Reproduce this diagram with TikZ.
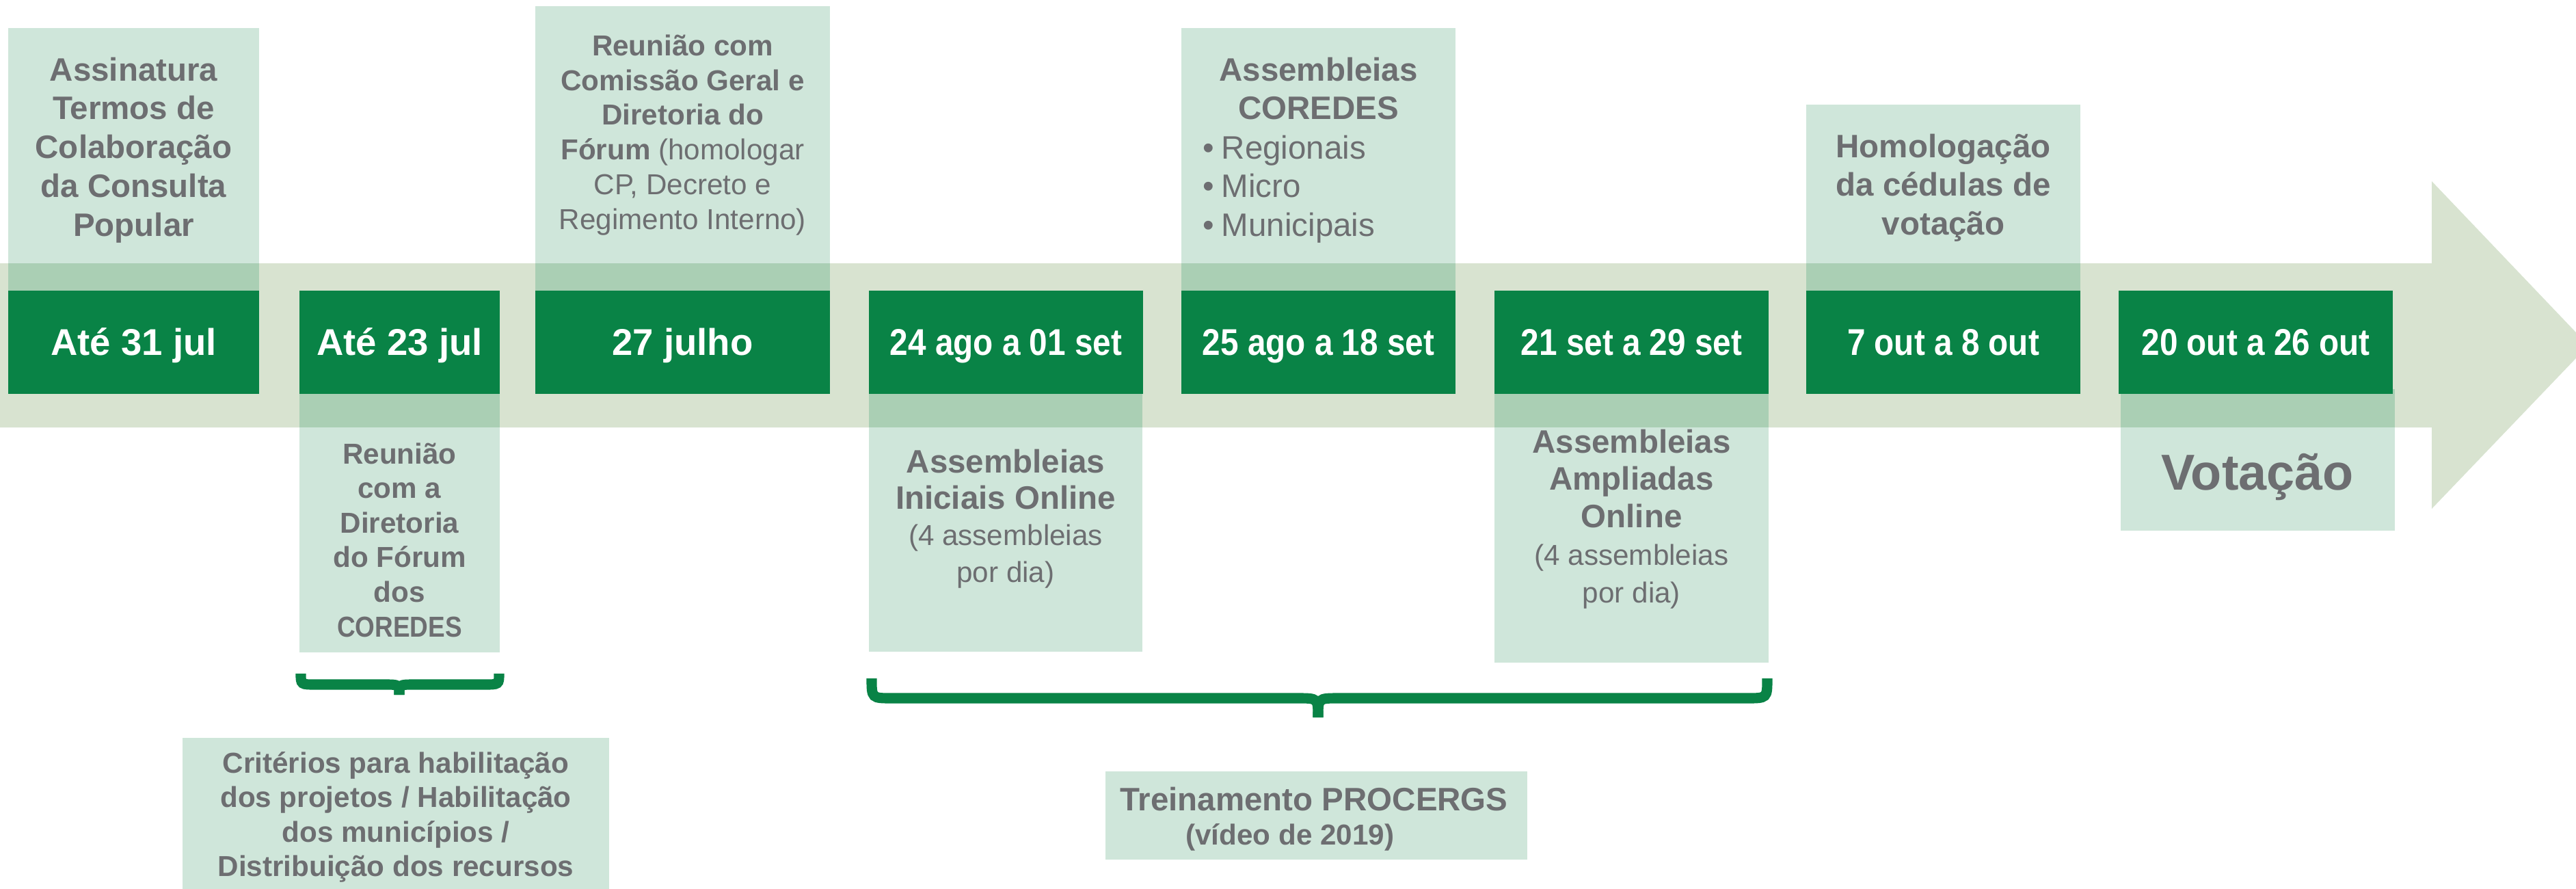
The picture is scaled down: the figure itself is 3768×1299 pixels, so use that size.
\documentclass[tikz,border=0pt]{standalone}
\usepackage{fontspec}
\setmainfont{Liberation Sans}
\usepackage{graphicx}
\definecolor{dgreen}{RGB}{9,131,70}
\definecolor{bandc}{RGB}{216,227,208}
\definecolor{lgreen}{RGB}{207,230,218}
\definecolor{ovl}{RGB}{170,207,180}
\definecolor{tgray}{RGB}{109,110,113}
\newcommand{\mystackc}[1]{\begin{tabular}[t]{@{}c@{}}#1\end{tabular}}
\newcommand{\mystackl}[1]{\begin{tabular}[t]{@{}l@{}}#1\end{tabular}}
\newcommand{\cond}[1]{\scalebox{0.875}[1]{#1}}
\tikzset{
  dlabel/.style={text=white, font={\fontsize{15.5}{18}\selectfont\bfseries}, anchor=base, inner sep=0pt},
  gtext/.style={text=tgray, anchor=base, inner sep=0pt},
  bracepath/.style={draw=dgreen, line width=4.3pt},
}
\begin{document}
\begin{tikzpicture}[x=0.01cm,y=-0.01cm]
\useasboundingbox (0,0) rectangle (3768,1299);
\clip (0,0) rectangle (3768,1299);
% timeline arrow
\fill[bandc] (0,385) -- (3557,385) -- (3557,265) -- (3786,505) -- (3557,744) -- (3557,625) -- (0,625) -- cycle;
% top light boxes
\foreach \a/\b/\t in {12/379/41, 783/1214/9, 1728/2129/41, 2642/3043/153} {
  \fill[lgreen] (\a,\t) rectangle (\b,425);
  \fill[ovl] (\a,385) rectangle (\b,425);
}
% bottom light boxes
\foreach \a/\b/\t/\e in {438/731/576/954, 1271/1671/576/953, 2186/2587/576/969, 3102/3503/569/776} {
  \fill[lgreen] (\a,\t) rectangle (\b,\e);
  \fill[ovl] (\a,\t) rectangle (\b,625);
}
% dark date boxes
\foreach \a/\b in {12/379, 438/731, 783/1214, 1271/1672, 1728/2129, 2186/2587, 2642/3043, 3099/3500} {
  \fill[dgreen] (\a,425) rectangle (\b,576);
}
% lower info boxes
\fill[lgreen] (267,1079) rectangle (891,1310);
\fill[lgreen] (1617,1128) rectangle (2234,1257);
% braces
\draw[bracepath] (440,985) .. controls (440,1001) .. (462,1001) -- (562,1001) .. controls (584,1001) .. (584,1016);
\draw[bracepath] (584,1016) .. controls (584,1001) .. (606,1001) -- (708,1001) .. controls (730,1001) .. (730,985);
\draw[bracepath] (1275,992) .. controls (1275,1021) .. (1305,1021) -- (1898,1021) .. controls (1928,1021) .. (1928,1049);
\draw[bracepath] (1928,1049) .. controls (1928,1021) .. (1958,1021) -- (2555,1021) .. controls (2585,1021) .. (2585,992);
% date labels
\node[dlabel] (l1) at (195.5,519) {Até 31 jul};
\node[dlabel] (l2) at (584.5,519) {Até 23 jul};
\node[dlabel] (l3) at (998.5,519) {27 julho};
\node[dlabel] (l4) at (1471.5,519) {\cond{24 ago a 01 set}};
\node[dlabel] (l5) at (1928.5,519) {\cond{25 ago a 18 set}};
\node[dlabel] (l6) at (2386.5,519) {\cond{21 set a 29 set}};
\node[dlabel] (l7) at (2842.5,519) {\cond{7 out a 8 out}};
\node[dlabel] (l8) at (3299.5,519) {\cond{20 out a 26 out}};
% top texts
\node[gtext, font={\fontsize{13.5}{16.2}\selectfont\bfseries}] (t1) at (195.5,118)
  {\mystackc{Assinatura\\Termos de\\Colaboração\\da Consulta\\Popular}};
\node[gtext, font={\fontsize{12}{14.5}\selectfont}] (t2) at (998.5,81)
  {\mystackc{\textbf{Reunião com}\\\textbf{Comissão Geral e}\\\textbf{Diretoria do}\\\textbf{Fórum} (homologar\\CP, Decreto e\\Regimento Interno)}};
\node[gtext, font={\fontsize{13.5}{16}\selectfont\bfseries}] (t3) at (1928.5,118)
  {\mystackc{Assembleias\\COREDES}};
\node[gtext, anchor=base west, font={\fontsize{13.5}{16.2}\selectfont}] (t3b) at (1759,232)
  {\mystackl{•\hspace{3pt}Regionais\\•\hspace{3pt}Micro\\•\hspace{3pt}Municipais}};
\node[gtext, font={\fontsize{13.5}{16.2}\selectfont\bfseries}] (t4) at (2842.5,230)
  {\mystackc{Homologação\\da cédulas de\\votação}};
% bottom texts
\node[gtext, font={\fontsize{12}{14.4}\selectfont\bfseries}] (b1) at (584.5,678)
  {\mystackc{Reunião\\com a\\Diretoria\\do Fórum\\dos\\\cond{COREDES}}};
\node[gtext, font={\fontsize{13.5}{15.2}\selectfont}] (b2) at (1471,691)
  {\mystackc{\textbf{Assembleias}\\\textbf{Iniciais Online}\\{\fontsize{12}{15.2}\selectfont(4 assembleias}\\{\fontsize{12}{15.2}\selectfont por dia)}}};
\node[gtext, font={\fontsize{13.5}{15.6}\selectfont}] (b3) at (2386.5,662)
  {\mystackc{\textbf{Assembleias}\\\textbf{Ampliadas}\\\textbf{Online}\\{\fontsize{12}{15.6}\selectfont(4 assembleias}\\{\fontsize{12}{15.6}\selectfont por dia)}}};
\node[gtext, font={\fontsize{21}{25}\selectfont\bfseries}] (b4) at (3302,716) {Votação};
% lower texts
\node[gtext, font={\fontsize{12}{14.3}\selectfont\bfseries}] (c1) at (579,1130.5)
  {\mystackc{Critérios para habilitação\\dos projetos / Habilitação\\dos municípios /\\Distribuição dos recursos}};
\node[gtext, font={\fontsize{13.5}{14.3}\selectfont\bfseries}] (c2) at (1922,1185.5)
  {\mystackc{Treinamento PROCERGS\\{\fontsize{12}{14.3}\selectfont(vídeo de 2019)\hspace{20pt}\mbox{}}}};
\end{tikzpicture}
\end{document}
